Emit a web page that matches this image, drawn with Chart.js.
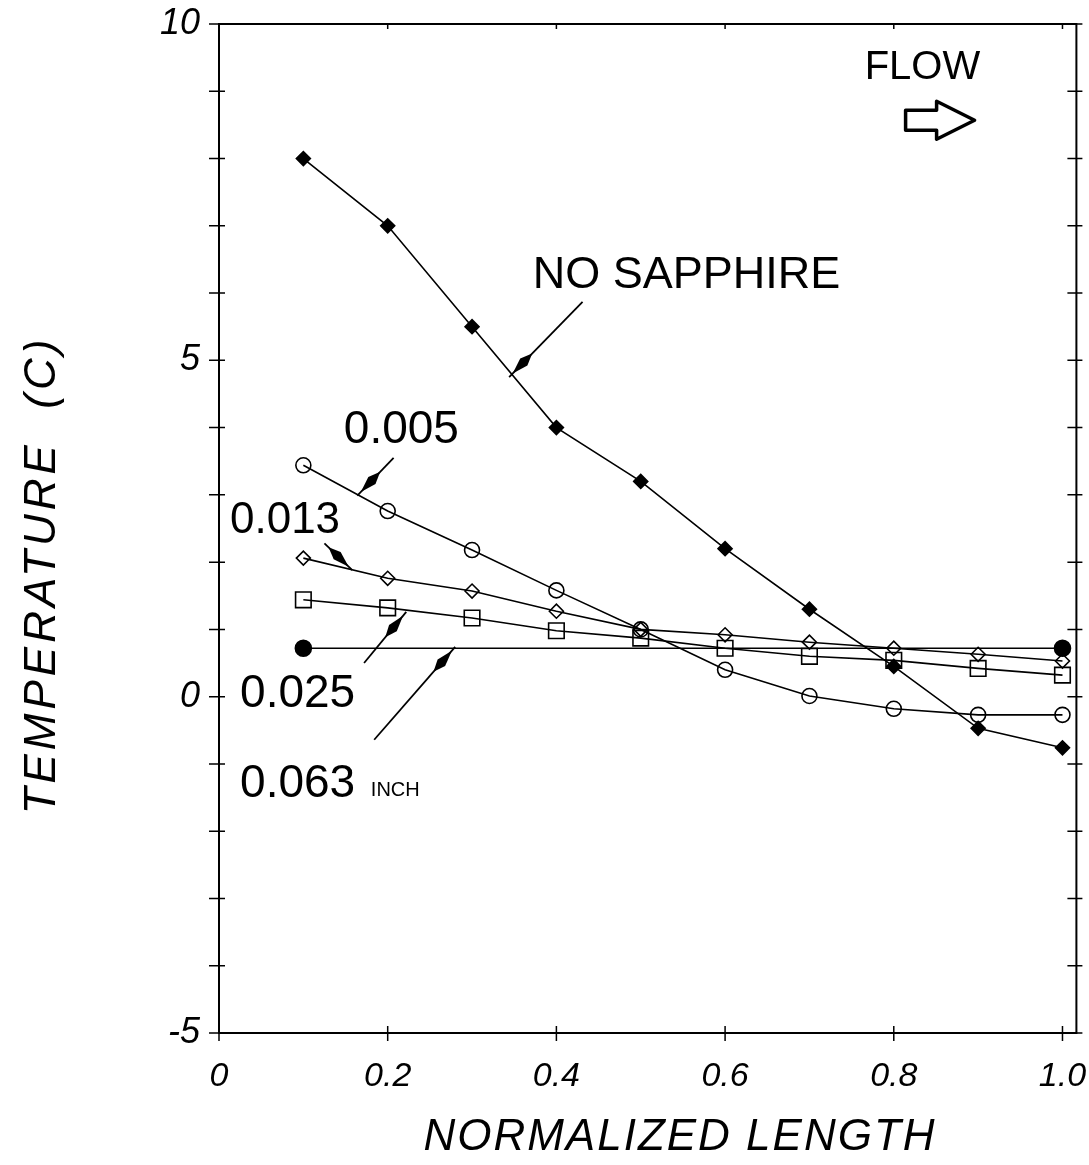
<!DOCTYPE html>
<html>
<head>
<meta charset="utf-8">
<script src="https://cdn.jsdelivr.net/npm/chart.js@4"></script>
<style>
  html, body { margin: 0; padding: 0; background: #fff; }
  #wrap { width: 1089px; height: 1165px; }
</style>
</head>
<body>
<div id="wrap"><canvas id="chart" width="1089" height="1165"></canvas></div>
<script>
// stations along the channel (normalized length)
const xs = [0.1, 0.2, 0.3, 0.4, 0.5, 0.6, 0.7, 0.8, 0.9, 1.0];

// temperature (C)
const noSapphire = [8.0, 7.0, 5.5, 4.0, 3.2, 2.2, 1.3, 0.45, -0.47, -0.76];
const t005 = [3.44, 2.76, 2.18, 1.58, 1.0, 0.4, 0.01, -0.18, -0.27, -0.27];
const t013 = [2.06, 1.76, 1.57, 1.27, 1.0, 0.92, 0.81, 0.72, 0.63, 0.53];
const t025 = [1.44, 1.32, 1.17, 0.98, 0.87, 0.72, 0.6, 0.54, 0.42, 0.32];
const x063 = [0.1, 1.0];
const t063 = [0.72, 0.72];

const xTicks = [0, 0.2, 0.4, 0.6, 0.8, 1.0];
const xTickLabels = ['0', '0.2', '0.4', '0.6', '0.8', '1.0'];
const yTicks = [-5, 0, 5, 10];
const yTickLabels = ['-5', '0', '5', '10'];
const yMinor = [-5, -4, -3, -2, -1, 0, 1, 2, 3, 4, 5, 6, 7, 8, 9, 10];

const pts = (xv, yv) => xv.map((x, i) => ({ x: x, y: yv[i] }));

function series(data, style, radius, filled) {
  return {
    data: data,
    showLine: true,
    tension: 0,
    borderColor: '#000',
    borderWidth: 1.6,
    pointStyle: style,
    pointRadius: radius,
    pointBorderWidth: 1.6,
    pointBorderColor: '#000',
    pointBackgroundColor: filled ? '#000' : 'rgba(0,0,0,0)'
  };
}

// callouts, placed in data units
const notes = [
  { text: 'NO SAPPHIRE', x: 0.372, y: 6.26, size: 45, from: [0.431, 5.87], to: [0.344, 4.75] },
  { text: '0.005', x: 0.148, y: 3.96, size: 46, from: [0.207, 3.55], to: [0.164, 2.99] },
  { text: '0.013', x: 0.013, y: 2.62, size: 44, from: [0.125, 2.28], to: [0.158, 1.88] },
  { text: '0.025', x: 0.025, y: 0.04, size: 46, from: [0.172, 0.50], to: [0.222, 1.26] },
  { text: '0.063', x: 0.025, y: -1.31, size: 46, from: [0.184, -0.64], to: [0.280, 0.74] }
];

function arrow(ctx, x1, y1, x2, y2) {
  ctx.beginPath();
  ctx.moveTo(x1, y1);
  ctx.lineTo(x2, y2);
  ctx.stroke();
  const a = Math.atan2(y2 - y1, x2 - x1);
  const c = Math.cos(a), s = Math.sin(a);
  const tx = x2 - c * 5, ty = y2 - s * 5;
  const bx = tx - c * 28, by = ty - s * 28;
  const mx = tx - c * 16, my = ty - s * 16;
  ctx.beginPath();
  ctx.moveTo(tx, ty);
  ctx.lineTo(mx + s * 5, my - c * 5);
  ctx.lineTo(bx, by);
  ctx.lineTo(mx - s * 5, my + c * 5);
  ctx.closePath();
  ctx.fill();
}

const decor = {
  id: 'decor',
  afterDatasetsDraw(chart) {
    const ctx = chart.ctx;
    const xs_ = chart.scales.x, ys_ = chart.scales.y;
    const a = chart.chartArea;
    ctx.save();
    ctx.strokeStyle = '#000';
    ctx.fillStyle = '#000';

    // frame
    ctx.lineWidth = 2;
    ctx.strokeRect(a.left, a.top, a.right - a.left, a.bottom - a.top);

    // tick marks
    ctx.lineWidth = 1.5;
    ctx.beginPath();
    yMinor.forEach(v => {
      const y = ys_.getPixelForValue(v);
      ctx.moveTo(a.left - 10, y); ctx.lineTo(a.left + 6, y);
      ctx.moveTo(a.right - 9, y); ctx.lineTo(a.right + 6, y);
    });
    xTicks.forEach(v => {
      const x = xs_.getPixelForValue(v);
      ctx.moveTo(x, a.bottom - 7); ctx.lineTo(x, a.bottom + 8);
      ctx.moveTo(x, a.top); ctx.lineTo(x, a.top + 5);
    });
    ctx.stroke();

    // callouts
    ctx.lineWidth = 1.8;
    ctx.textAlign = 'left';
    ctx.textBaseline = 'middle';
    notes.forEach(n => {
      ctx.font = n.size + 'px "Liberation Sans", Arial, sans-serif';
      ctx.fillText(n.text, xs_.getPixelForValue(n.x), ys_.getPixelForValue(n.y));
      arrow(ctx,
        xs_.getPixelForValue(n.from[0]), ys_.getPixelForValue(n.from[1]),
        xs_.getPixelForValue(n.to[0]), ys_.getPixelForValue(n.to[1]));
    });
    ctx.font = '20px "Liberation Sans", Arial, sans-serif';
    ctx.fillText('INCH', xs_.getPixelForValue(0.18), ys_.getPixelForValue(-1.39));

    // flow marker
    ctx.font = '40px "Liberation Sans", Arial, sans-serif';
    ctx.textAlign = 'center';
    ctx.fillText('FLOW', xs_.getPixelForValue(0.834), ys_.getPixelForValue(9.35));
    const fx = xs_.getPixelForValue(0.814), fy = ys_.getPixelForValue(8.57);
    ctx.lineWidth = 3.5;
    ctx.lineJoin = 'round';
    ctx.beginPath();
    ctx.moveTo(fx, fy - 10);
    ctx.lineTo(fx + 31, fy - 10);
    ctx.lineTo(fx + 31, fy - 19);
    ctx.lineTo(fx + 69, fy);
    ctx.lineTo(fx + 31, fy + 19);
    ctx.lineTo(fx + 31, fy + 10);
    ctx.lineTo(fx, fy + 10);
    ctx.closePath();
    ctx.stroke();

    // axis titles
    ctx.font = 'italic 44px "Liberation Sans", Arial, sans-serif';
    ctx.textAlign = 'center';
    ctx.letterSpacing = '2px';
    ctx.fillText('NORMALIZED LENGTH', 680, 1138);
    ctx.letterSpacing = '4px';
    ctx.translate(43, 575);
    ctx.rotate(-Math.PI / 2);
    ctx.fillText('TEMPERATURE  (C)', 0, 0);
    ctx.restore();
  }
};

const tickFont = { family: '"Liberation Sans", Arial, sans-serif', size: 36, style: 'italic' };
const xTickFont = { family: '"Liberation Sans", Arial, sans-serif', size: 34, style: 'italic' };

// keep the plot box where the original has it, whatever the labels overhang
function noOverhang(s) {
  s.paddingTop = 0; s.paddingBottom = 0; s.paddingLeft = 0; s.paddingRight = 0;
}

new Chart(document.getElementById('chart'), {
  type: 'scatter',
  data: {
    datasets: [
      series(pts(xs, noSapphire), 'rectRot', 7, true),
      series(pts(xs, t005), 'circle', 7.5, false),
      series(pts(xs, t013), 'rectRot', 7, false),
      series(pts(xs, t025), 'rect', 11, false),
      series(pts(x063, t063), 'circle', 8, true)
    ]
  },
  options: {
    responsive: false,
    animation: false,
    layout: { padding: { top: 24, right: 6, left: 0, bottom: 0 } },
    plugins: { legend: { display: false }, tooltip: { enabled: false } },
    scales: {
      x: {
        type: 'linear',
        min: 0,
        max: 1.0165,
        grid: { display: false, drawTicks: false },
        border: { display: false },
        afterBuildTicks: s => { s.ticks = xTicks.map(v => ({ value: v })); },
        afterFit: s => { s.height = 132; noOverhang(s); },
        ticks: {
          color: '#000',
          font: xTickFont,
          padding: 23,
          maxRotation: 0,
          autoSkip: false,
          callback: (v) => xTickLabels[xTicks.indexOf(v)]
        }
      },
      y: {
        type: 'linear',
        min: -5,
        max: 10,
        grid: { display: false, drawTicks: false },
        border: { display: false },
        afterBuildTicks: s => { s.ticks = yTicks.map(v => ({ value: v })); },
        afterFit: s => { s.width = 219; noOverhang(s); },
        ticks: {
          color: '#000',
          font: tickFont,
          padding: 19,
          autoSkip: false,
          callback: (v) => yTickLabels[yTicks.indexOf(v)]
        }
      }
    }
  },
  plugins: [decor]
});
</script>
</body>
</html>
